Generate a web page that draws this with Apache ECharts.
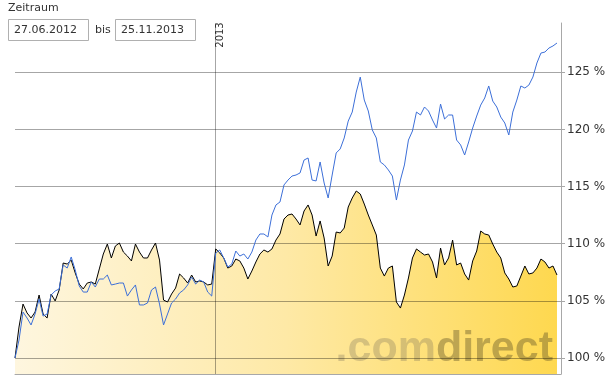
<!DOCTYPE html>
<html><head><meta charset="utf-8">
<script src="https://cdn.jsdelivr.net/npm/echarts@6/dist/echarts.min.js"></script>
<style>html,body{margin:0;padding:0;background:#fff}#c{width:611px;height:380px}</style>
</head><body><div id="c"></div><script>
// Fund (black line, yellow area) in % of start value
const fundValues = [
 100.0,102.71,104.72,103.94,103.50,104.02,105.51,103.85,103.50,105.60,
 104.99,105.95,108.31,108.22,108.57,107.44,106.47,106.04,106.56,106.65,
 106.47,107.79,109.10,109.97,108.75,109.80,110.06,109.27,108.92,108.49,
 109.97,109.27,108.75,108.75,109.45,110.06,108.57,105.07,104.90,105.60,
 106.12,107.35,107.00,106.56,107.26,106.65,106.74,106.65,106.39,106.47,
 109.54,109.19,108.75,107.87,108.05,108.66,108.49,107.87,106.91,107.61,
 108.40,109.10,109.45,109.27,109.54,110.32,110.85,112.16,112.51,112.60,
 112.16,111.64,112.86,113.39,112.51,110.67,111.99,110.50,108.05,108.92,
 111.02,110.94,111.37,113.21,114.00,114.61,114.35,113.47,112.51,111.64,
 110.76,107.87,107.17,107.87,108.05,104.90,104.37,105.51,107.00,108.75,
 109.54,109.27,109.01,109.10,108.40,107.00,109.62,108.14,108.75,110.32,
 108.14,108.31,107.35,106.82,108.49,109.36,111.11,110.85,110.76,109.97,
 109.27,108.75,107.44,106.91,106.21,106.30,107.17,108.05,107.35,107.44,
 107.87,108.66,108.40,107.87,108.05,107.26
];
// Benchmark (blue line) in % of start value
const benchmarkValues = [
 100.0,101.57,104.02,103.50,102.89,103.85,105.16,103.67,103.85,105.51,
 105.86,106.04,108.14,107.87,108.84,107.70,106.30,105.77,105.77,106.65,
 106.21,106.91,106.91,107.26,106.39,106.47,106.56,106.56,105.42,105.95,
 106.39,104.64,104.64,104.81,105.95,106.21,104.72,102.89,103.85,104.81,
 105.16,105.69,105.95,106.39,107.09,106.47,106.82,106.65,105.77,105.42,
 109.19,109.45,108.75,107.96,108.22,109.36,108.92,109.10,108.66,109.27,
 110.32,110.85,110.85,110.59,112.51,113.39,113.65,115.14,115.57,115.92,
 116.01,116.19,117.32,117.50,115.57,115.49,117.15,115.31,114.00,116.01,
 117.94,118.29,119.25,120.73,121.52,123.27,124.58,122.57,121.61,119.95,
 119.25,117.15,116.89,116.45,115.92,113.82,115.57,116.89,119.07,119.86,
 121.52,121.26,121.96,121.61,120.82,120.12,122.22,120.91,121.26,121.26,
 119.07,118.64,117.76,118.90,120.12,121.17,122.13,122.75,123.80,122.48,
 121.96,121.08,120.56,119.51,121.52,122.57,123.80,123.62,123.88,124.58,
 125.81,126.68,126.77,127.12,127.30,127.56
];
const yTicks = [100, 105, 110, 115, 120, 125];
const periodTitle = 'Zeitraum';
const periodStart = '27.06.2012';
const periodJoin = 'bis';
const periodEnd = '25.11.2013';
const yearLabel = '2013';
const yearIndex = 50;
const categories = fundValues.map((_, i) => String(i)).concat(['']);

const font = 'DejaVu Sans';
const chart = echarts.init(document.getElementById('c'), null, {renderer: 'canvas'});
const gridLine = {color: 'rgba(0,0,0,0.35)', width: 1, type: 'solid'};

chart.setOption({
  animation: false,
  grid: {left: 15, top: 23, width: 546, height: 351, containLabel: false},
  xAxis: {
    type: 'category', data: categories, boundaryGap: false,
    axisLine: {show: true, lineStyle: {color: '#a8a8a8', width: 1}},
    axisTick: {show: false}, axisLabel: {show: false}, splitLine: {show: false}
  },
  yAxis: {
    type: 'value', position: 'right', min: 98.6, max: 129.31,
    axisLine: {show: true, lineStyle: {color: '#a8a8a8', width: 1}},
    axisTick: {show: true, length: 4, customValues: yTicks, lineStyle: {color: '#a8a8a8'}},
    axisLabel: {customValues: yTicks, formatter: '{value} %', color: '#333', fontFamily: font, fontSize: 12, margin: 6},
    splitLine: {show: false}
  },
  series: [
    {
      type: 'line', data: fundValues, z: 1, symbol: 'none', silent: true,
      lineStyle: {width: 0},
      areaStyle: {
        origin: 'start', opacity: 1,
        color: new echarts.graphic.LinearGradient(0, 0, 1, 0, [
          {offset: 0, color: '#fef6df'},
          {offset: 0.5, color: '#fee9a6'},
          {offset: 1, color: '#fed84f'}
        ])
      }
    },
    {
      type: 'line', data: fundValues, z: 3, symbol: 'none', silent: true,
      lineStyle: {opacity: 0},
      markLine: {
        silent: true, symbol: ['none', 'none'], label: {show: false},
        lineStyle: gridLine,
        data: yTicks.map(v => ({yAxis: v})).concat([{xAxis: yearIndex}])
      }
    },
    {type: 'line', data: fundValues, z: 4, symbol: 'none', silent: true, lineStyle: {color: '#000', width: 1}},
    {type: 'line', data: benchmarkValues, z: 5, symbol: 'none', silent: true, lineStyle: {color: '#3c6fd8', width: 1}}
  ]
});

const yearX = chart.convertToPixel({xAxisIndex: 0}, yearIndex);
const txt = (x, y, s, extra) => Object.assign({
  type: 'text', x: x, y: y, silent: true,
  style: Object.assign({text: s, fill: '#333', font: '11px "DejaVu Sans"', verticalAlign: 'middle'}, extra || {})
});
chart.setOption({
  graphic: [
    txt(8, 8.5, periodTitle),
    {type: 'rect', shape: {x: 8.5, y: 19.5, width: 80, height: 21}, style: {fill: '#fff', stroke: '#b0b0b0', lineWidth: 1}},
    txt(14, 30.5, periodStart),
    txt(95, 30.5, periodJoin),
    {type: 'rect', shape: {x: 115.5, y: 19.5, width: 80, height: 21}, style: {fill: '#fff', stroke: '#b0b0b0', lineWidth: 1}},
    txt(121, 30.5, periodEnd),
    {type: 'text', x: yearX + 5, y: 35, rotation: Math.PI / 2, silent: true,
      style: {text: yearLabel, fill: '#333', font: '10px "DejaVu Sans"', align: 'center', verticalAlign: 'middle'}},
    {type: 'text', x: 553, y: 371, z: 2, silent: true,
      style: {
        text: '{a|.com}{b|direct}', align: 'right', verticalAlign: 'bottom',
        rich: {
          a: {fontFamily: 'Liberation Sans', fontWeight: 'bold', fontSize: 43, fill: 'rgba(120,110,90,0.3)'},
          b: {fontFamily: 'Liberation Sans', fontWeight: 'bold', fontSize: 43, fill: 'rgba(100,85,40,0.42)'}
        }
      }}
  ]
});
</script></body></html>
